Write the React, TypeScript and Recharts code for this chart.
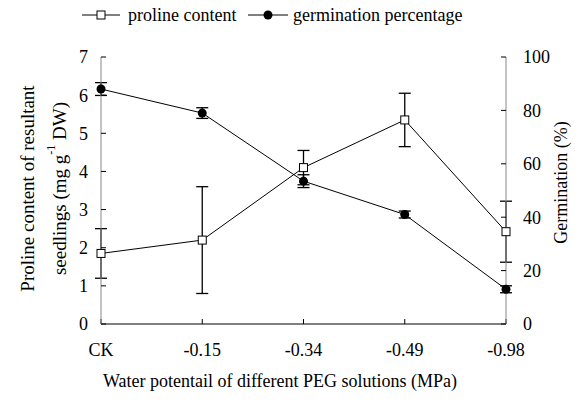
import React from 'react';
import { LineChart, Line, XAxis, YAxis, ErrorBar } from 'recharts';

const categories = ['CK', '-0.15', '-0.34', '-0.49', '-0.98'];
const prolineContent = [1.85, 2.2, 4.1, 5.35, 2.42];
const prolineError = [0.65, 1.4, 0.45, 0.7, 0.8];
const germinationPct = [88, 79, 53.5, 41, 13];
const germinationError = [2.4, 2, 2.4, 1.3, 1.3];
const leftTicks = [0, 1, 2, 3, 4, 5, 6, 7];
const rightTicks = [0, 20, 40, 60, 80, 100];

const data = categories.map((c, i) => ({
  cat: c,
  proline: prolineContent[i],
  prolineErr: prolineError[i],
  germ: germinationPct[i],
  germErr: germinationError[i],
}));

const FONT = "'Liberation Serif', 'Times New Roman', serif";
const fs = { fontFamily: FONT };
const FS = 18;

const SquareDot = (props: any) => {
  const { cx, cy, index } = props;
  return <rect key={`sq-${index}`} x={cx - 4} y={cy - 4} width={8} height={8} fill="#fff" stroke="#000" strokeWidth={1} />;
};

const LeftLabel = (props: any) => {
  const vb = props.viewBox || {};
  const cy = vb.y + vb.height / 2 - 2;
  return (
    <g>
      <text x={27} y={cy} transform={`rotate(-90 27 ${cy})`} textAnchor="middle" dominantBaseline="central" style={fs} fontSize={FS + 1} fill="#000">
        Proline content of resultant
      </text>
      <text x={59} y={cy} transform={`rotate(-90 59 ${cy})`} textAnchor="middle" dominantBaseline="central" style={fs} fontSize={FS + 1} fill="#000">
        seedlings (mg g<tspan fontSize={12} dy={-8}>-1</tspan><tspan dy={8}> DW)</tspan>
      </text>
    </g>
  );
};

const RightLabel = (props: any) => {
  const vb = props.viewBox || {};
  const cy = vb.y + vb.height / 2 - 8;
  const x = 561;
  return (
    <text x={x} y={cy} transform={`rotate(-90 ${x} ${cy})`} textAnchor="middle" dominantBaseline="central" style={fs} fontSize={FS} fill="#000">
      Germination (%)
    </text>
  );
};

const BottomLabel = () => (
  <text x={280} y={381} textAnchor="middle" dominantBaseline="central" style={fs} fontSize={FS} fill="#000">
    Water potentail of different PEG solutions (MPa)
  </text>
);

const LegendOverlay = () => (
  <svg width={577} height={34} style={{ position: 'absolute', left: 0, top: 0 }}>
    <line x1={82} y1={15} x2={120} y2={15} stroke="#000" strokeWidth={1} />
    <rect x={97} y={11} width={8} height={8} fill="#fff" stroke="#000" />
    <text x={128} y={15} dominantBaseline="central" style={fs} fontSize={FS} fill="#000">proline content</text>
    <line x1={248} y1={15} x2={288} y2={15} stroke="#000" strokeWidth={1} />
    <circle cx={268} cy={15} r={4.5} fill="#000" />
    <text x={293} y={15} dominantBaseline="central" style={fs} fontSize={FS} fill="#000">germination percentage</text>
  </svg>
);

export default function App() {
  const tickStyle = { fontFamily: FONT, fontSize: FS, fill: '#000' };
  return (
    <div style={{ position: 'absolute', left: 0, top: 0, width: 577, height: 404, background: '#fff', fontFamily: FONT }}>
      <LegendOverlay />
      <LineChart width={577} height={404} data={data} margin={{ top: 57, right: 0, bottom: 0, left: 0 }} style={{ fontFamily: FONT }}>
        <XAxis
          dataKey="cat"
          height={80}
          stroke="#000"
          tickSize={-5}
          tickMargin={24}
          tick={tickStyle}
          tickLine={{ stroke: '#000' }}
          axisLine={{ stroke: '#000' }}
          interval={0}
          label={<BottomLabel />}
        />
        <YAxis
          yAxisId="left"
          orientation="left"
          width={101}
          domain={[0, 7]}
          ticks={leftTicks}
          tickSize={-5}
          tickMargin={18}
          tick={tickStyle}
          axisLine={{ stroke: '#888' }}
          tickLine={{ stroke: '#000' }}
          label={<LeftLabel />}
        />
        <YAxis
          yAxisId="right"
          orientation="right"
          width={71}
          domain={[0, 100]}
          ticks={rightTicks}
          tickSize={-5}
          tickMargin={22}
          tick={{ ...tickStyle, textAnchor: 'start' }}
          axisLine={{ stroke: '#888' }}
          tickLine={{ stroke: '#000' }}
          label={<RightLabel />}
        />
        <Line
          yAxisId="right"
          dataKey="germ"
          stroke="#000"
          strokeWidth={1}
          dot={{ r: 4.5, fill: '#000', stroke: '#000', strokeWidth: 0 }}
          isAnimationActive={false}
        >
          <ErrorBar dataKey="germErr" direction="y" width={6} stroke="#000" strokeWidth={1.3} isAnimationActive={false} />
        </Line>
        <Line
          yAxisId="left"
          dataKey="proline"
          stroke="#000"
          strokeWidth={1}
          dot={SquareDot}
          isAnimationActive={false}
        >
          <ErrorBar dataKey="prolineErr" direction="y" width={6} stroke="#000" strokeWidth={1.3} isAnimationActive={false} />
        </Line>
      </LineChart>
    </div>
  );
}
